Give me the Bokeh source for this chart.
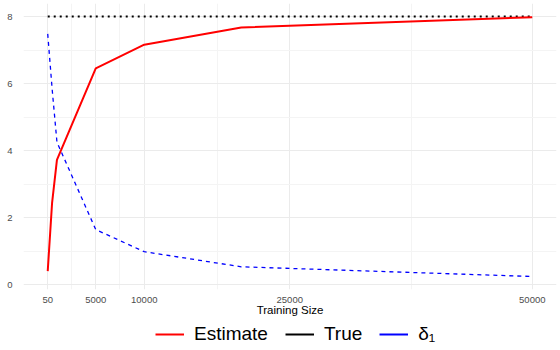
from bokeh.plotting import figure
from bokeh.layouts import column
from bokeh.models import Range1d, FixedTicker, Legend, LegendItem, ColumnDataSource
from bokeh.embed import file_html
from bokeh.resources import INLINE

# Data
training_size = [50, 500, 1000, 5000, 10000, 20000, 50000]
estimate = [0.40, 2.44, 3.72, 6.45, 7.16, 7.67, 7.98]
true_value = [8, 8, 8, 8, 8, 8, 8]
delta_1 = [7.48, 5.85, 4.25, 1.64, 0.98, 0.53, 0.24]

x_ticks = [50, 5000, 10000, 25000, 50000]
x_minor = [2525, 7500, 17500, 37500]
y_ticks = [0, 2, 4, 6, 8]
y_minor = [1, 3, 5, 7]

FONT = "Liberation Sans"

src = ColumnDataSource(dict(x=training_size, est=estimate, tru=true_value, d1=delta_1))

p = figure(width=560, height=318,
           x_range=Range1d(-2447.5, 52497.5), y_range=Range1d(-0.148, 8.388),
           output_backend="svg", toolbar_location=None,
           min_border_left=23, min_border_right=4, min_border_top=3, min_border_bottom=28)
p.outline_line_color = None
p.background_fill_color = "white"
p.border_fill_color = "white"

xt = FixedTicker(ticks=x_ticks, minor_ticks=x_minor)
yt = FixedTicker(ticks=y_ticks, minor_ticks=y_minor)
p.xaxis.ticker = xt
p.yaxis.ticker = yt
p.xgrid.ticker = xt
p.ygrid.ticker = yt

for g in (p.xgrid, p.ygrid):
    g.grid_line_color = "#EBEBEB"
    g.grid_line_width = 1
    g.minor_grid_line_color = "#F4F4F4"
    g.minor_grid_line_width = 1

for ax in (p.xaxis, p.yaxis):
    ax.axis_line_color = None
    ax.major_tick_line_color = None
    ax.minor_tick_line_color = None
    ax.major_label_text_font = FONT
    ax.major_label_text_font_size = "9.5px"
    ax.major_label_text_color = "#4D4D4D"

p.xaxis.major_label_standoff = 1
p.yaxis.major_label_standoff = 5
p.xaxis.axis_label = "Training Size"
p.xaxis.axis_label_text_font = FONT
p.xaxis.axis_label_text_font_size = "11.5px"
p.xaxis.axis_label_text_font_style = "normal"
p.xaxis.axis_label_text_color = "black"
p.xaxis.axis_label_standoff = -2

p.line("x", "tru", source=src, line_color="black", line_width=1.8, line_dash="2 4")
p.line("x", "d1", source=src, line_color="blue", line_width=1.3, line_dash="4 4")
p.line("x", "est", source=src, line_color="red", line_width=2)

# legend strip below the plot (solid keys, as in the reference);
# the key lines use the same data but lie outside this strip's ranges
pl = figure(width=560, height=32, x_range=Range1d(0, 1), y_range=Range1d(0, 1),
            x_axis_location=None, y_axis_location=None,
            output_backend="svg", toolbar_location=None,
            min_border_left=0, min_border_right=0, min_border_top=0, min_border_bottom=0)
pl.grid.visible = False
pl.outline_line_color = None
k1 = pl.line("x", "est", source=src, line_color="red", line_width=2)
k2 = pl.line("x", "tru", source=src, line_color="black", line_width=2)
k3 = pl.line("x", "d1", source=src, line_color="blue", line_width=2)
for k in (k1, k2, k3):
    k.level = "underlay"

legend = Legend(items=[LegendItem(label="Estimate", renderers=[k1]),
                       LegendItem(label="True", renderers=[k2]),
                       LegendItem(label="δ₁", renderers=[k3])],
                orientation="horizontal", location=(132, 4),
                border_line_color=None, background_fill_alpha=0,
                label_text_font=FONT, label_text_font_size="19px",
                label_text_color="black",
                label_height=24, glyph_height=24,
                glyph_width=29, label_standoff=10, spacing=17,
                padding=0, margin=0)
pl.add_layout(legend)

layout = column(p, pl, spacing=0)
open("out.html", "w").write(file_html(layout, INLINE))
